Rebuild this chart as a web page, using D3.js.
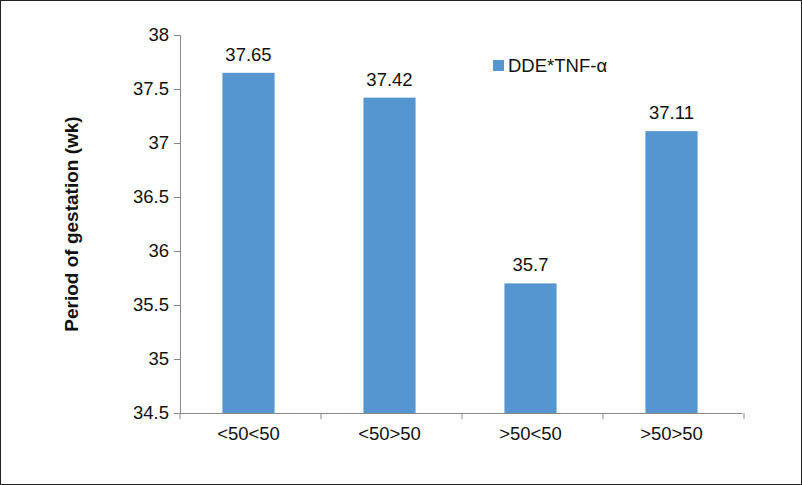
<!DOCTYPE html>
<html><head><meta charset="utf-8">
<script src="https://cdn.jsdelivr.net/npm/d3@7"></script>
<style>body{margin:0;background:#fff}svg{font-family:"Liberation Sans",Arial,sans-serif}</style>
</head><body><svg id="c" width="802" height="485"></svg>
<script>
const categories = ['<50<50', '<50>50', '>50<50', '>50>50'];
const values = [37.65, 37.42, 35.7, 37.11];
const yTicks = [34.5, 35, 35.5, 36, 36.5, 37, 37.5, 38];
const seriesName = 'DDE*TNF-\u03b1';

const svg = d3.select('#c');
svg.append('rect').attr('x', 0.5).attr('y', 0.5).attr('width', 801).attr('height', 484)
  .attr('fill', '#fff').attr('stroke', '#222');

const x = d3.scaleBand().domain(categories).range([178, 742]).paddingInner(0.63).paddingOuter(0.315);
const y = d3.scaleLinear().domain([34.5, 38]).range([413, 35]);

const yAxis = svg.append('g').attr('transform', 'translate(180,0)')
  .call(d3.axisLeft(y).tickValues(yTicks).tickSize(6).tickFormat(d3.format('')));
const xAxis = svg.append('g').attr('transform', 'translate(0,413)')
  .call(d3.axisBottom(x).tickSize(0).tickPadding(14));
[yAxis, xAxis].forEach(a => {
  a.selectAll('path,line').attr('stroke', '#898989');
  a.selectAll('text').attr('font-size', 18.5).attr('fill', '#111');
});
yAxis.selectAll('text').attr('dx', -2);
svg.append('g').selectAll('line').data(d3.range(categories.length + 1)).join('line')
  .attr('x1', i => 180 + i * x.step()).attr('x2', i => 180 + i * x.step())
  .attr('y1', 413).attr('y2', 419).attr('stroke', '#898989');

svg.append('g').selectAll('rect').data(values).join('rect')
  .attr('x', (d, i) => x(categories[i])).attr('width', x.bandwidth())
  .attr('y', d => y(d)).attr('height', d => y(34.5) - y(d)).attr('fill', '#5596d0');

svg.append('g').selectAll('text').data(values).join('text')
  .attr('x', (d, i) => x(categories[i]) + x.bandwidth() / 2).attr('y', d => y(d) - 12)
  .attr('text-anchor', 'middle').attr('font-size', 18.5).attr('fill', '#111').text(d => d);

svg.append('text').attr('transform', 'translate(78,224) rotate(-90)').attr('text-anchor', 'middle')
  .attr('font-size', 19).attr('font-weight', 'bold').attr('fill', '#111').text('Period of gestation (wk)');

svg.append('rect').attr('x', 493).attr('y', 60).attr('width', 11).attr('height', 11).attr('fill', '#5596d0');
svg.append('text').attr('x', 508).attr('y', 72).attr('font-size', 18.5).attr('fill', '#111').text(seriesName);
</script></body></html>
